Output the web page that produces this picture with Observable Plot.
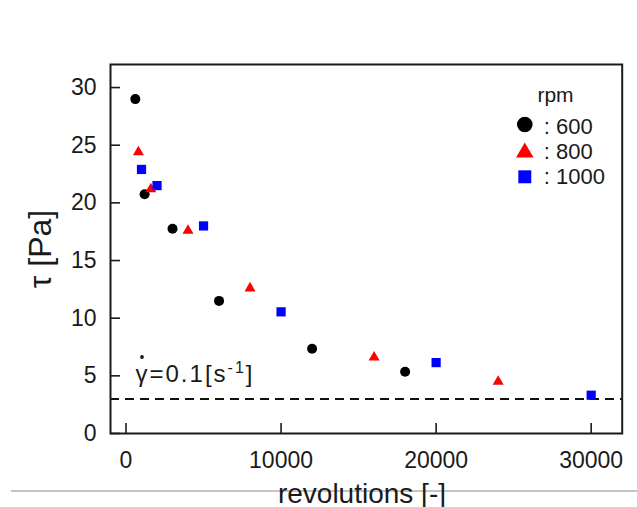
<!DOCTYPE html>
<html>
<head>
<meta charset="utf-8">
<script src="https://cdn.jsdelivr.net/npm/d3@7"></script>
<script src="https://cdn.jsdelivr.net/npm/@observablehq/plot@0.6"></script>
<style>
  html, body { margin: 0; padding: 0; background: #fff; }
  #wrap { position: relative; width: 637px; height: 507px; }
  #rule { position: absolute; left: 11px; top: 490px; width: 626px; height: 1.5px; background: #c4c4c4; }
  #chart { position: absolute; left: 0; top: 0; }
</style>
</head>
<body>
<div id="wrap"><div id="rule"></div><div id="chart"></div></div>
<script>
// Data
const rev600 = [600, 1200, 3000, 6000, 12000, 18000];
const tau600 = [29.0, 20.75, 17.75, 11.5, 7.35, 5.35];
const rev800 = [800, 1600, 4000, 8000, 16000, 24000];
const tau800 = [24.4, 21.2, 17.6, 12.6, 6.6, 4.5];
const rev1000 = [1000, 2000, 5000, 10000, 20000, 30000];
const tau1000 = [22.9, 21.5, 18.0, 10.55, 6.15, 3.32];
const xTicks = [0, 10000, 20000, 30000];
const yTicks = [0, 5, 10, 15, 20, 25, 30];
const legendLabels = ["600", "800", "1000"];
const legendTitle = "rpm";
const refLevel = [3];
const xLabel = "revolutions [-]";
const yLabel = "τ [Pa]";
const annot = "γ=0.1[s-1]";

const series = [
  {rev: rev600, tau: tau600, symbol: "circle", color: "#000000", r: 5, lr: 7.8},
  {rev: rev800, tau: tau800, symbol: "triangle", color: "#ff0000", r: 4.1, lr: 6.5},
  {rev: rev1000, tau: tau1000, symbol: "square", color: "#0000ff", r: 5.2, lr: 7.3}
];

const W = 637, H = 507, mL = 110, mR = 15.3, mT = 64, mB = 74;
const frameW = W - mL - mR, frameH = H - mT - mB;
const ink = "#1a1a1a";

const marks = [];
marks.push(Plot.ruleY(refLevel, {stroke: "#111", strokeWidth: 2, strokeDasharray: "9,6"}));
series.forEach(s => {
  const rows = s.rev.map((x, i) => ({x, y: s.tau[i]}));
  marks.push(Plot.dot(rows, {x: "x", y: "y", symbol: () => s.symbol, fill: s.color, stroke: "none", r: s.r}));
});
marks.push(Plot.tickX(xTicks, {x: d => d, insetTop: frameH - 10, stroke: ink, strokeWidth: 1.6}));
marks.push(Plot.tickY(yTicks, {y: d => d, insetRight: frameW - 10, stroke: ink, strokeWidth: 1.6}));
marks.push(Plot.axisX(xTicks, {tickSize: 0, tickPadding: 18, tickFormat: d => String(d), label: null, fontSize: 23, fill: ink}));
marks.push(Plot.axisY(yTicks, {tickSize: 0, tickPadding: 14, tickFormat: d => String(d), label: null, fontSize: 23, fill: ink}));
marks.push(Plot.frame({stroke: ink, strokeWidth: 2}));

// legend
const legY = [60, 88, 112.3];
const legTextY = [69.3, 94.3, 119.3];
marks.push(Plot.text([legendTitle], {frameAnchor: "top-right", text: d => d, dx: -66.7, dy: 37.7, lineAnchor: "bottom", textAnchor: "middle", fontSize: 21, fill: ink}));
series.forEach((s, i) => {
  marks.push(Plot.dot([legendLabels[i]], {frameAnchor: "top-right", dx: -97.4, dy: legY[i], symbol: () => s.symbol, fill: s.color, stroke: "none", r: s.lr}));
  marks.push(Plot.text([legendLabels[i]], {frameAnchor: "top-right", text: d => ": " + d, dx: -78.4, dy: legTextY[i], lineAnchor: "bottom", textAnchor: "start", fontSize: 22, fill: ink}));
});

// annotation (gamma-dot) and axis labels
marks.push(Plot.text([annot], {frameAnchor: "bottom-left", text: d => d, dx: 25, dy: -52, lineAnchor: "bottom", textAnchor: "start", fontSize: 24, fill: ink}));
marks.push(Plot.dot([annot], {frameAnchor: "bottom-left", dx: 31.5, dy: -76.5, r: 1.9, fill: ink, stroke: "none"}));
marks.push(Plot.text([xLabel], {frameAnchor: "bottom", text: d => d, dx: -4.4, dy: 69, lineAnchor: "bottom", textAnchor: "middle", fontSize: 28, fill: ink}));
marks.push(Plot.text([yLabel], {frameAnchor: "left", text: d => d, dx: -70, dy: 0, rotate: -90, lineAnchor: "middle", textAnchor: "middle", fontSize: 32, fill: ink}));

const chart = Plot.plot({
  width: W, height: H,
  marginLeft: mL, marginRight: mR, marginTop: mT, marginBottom: mB,
  x: {domain: [-1000, 32000]},
  y: {domain: [0, 32]},
  style: {fontFamily: "'Liberation Sans', Arial, sans-serif", fontSize: "23px", color: ink, background: "transparent", overflow: "visible"},
  marks
});

// superscript in the annotation
d3.select(chart).selectAll("text").filter(function() { return this.textContent === annot; }).each(function() {
  const t = d3.select(this);
  t.text(null).style("letter-spacing", "2px");
  t.append("tspan").text("γ=0.1[s");
  t.append("tspan").attr("font-size", "16px").attr("dy", "-9").text("-1");
  t.append("tspan").attr("dy", "9").text("]");
});

document.getElementById("chart").appendChild(chart);
</script>
</body>
</html>
